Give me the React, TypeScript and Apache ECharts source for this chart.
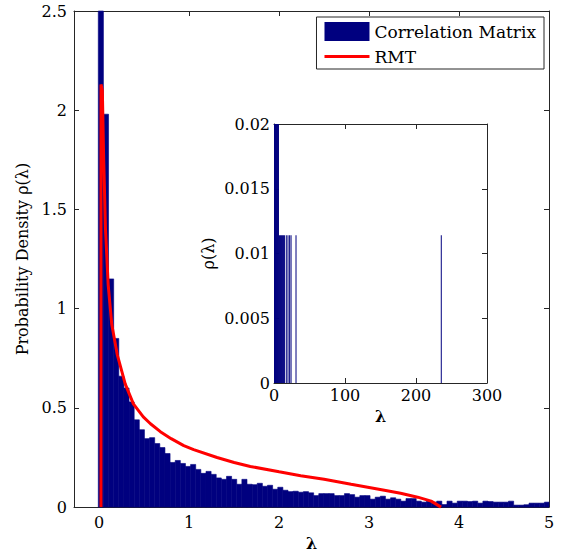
import React, { useEffect, useRef } from "react";
import * as echarts from "echarts";

// ---- Data ----
// Main histogram: bins start at binStart, each binWidth wide
const binStart = -0.01;
const binWidth = 0.057;
const binDensity = [
  3.2, 1.98, 1.15, 0.85, 0.66, 0.6, 0.53, 0.44, 0.39, 0.345,
  0.35, 0.32, 0.3, 0.27, 0.225, 0.235, 0.22, 0.205, 0.215, 0.19,
  0.17, 0.18, 0.165, 0.147, 0.14, 0.155, 0.14, 0.115, 0.14, 0.115,
  0.113, 0.12, 0.105, 0.11, 0.09, 0.1, 0.085, 0.078, 0.08, 0.075,
  0.078, 0.072, 0.058, 0.068, 0.068, 0.068, 0.058, 0.058, 0.068, 0.063,
  0.05, 0.058, 0.058, 0.04, 0.05, 0.055, 0.04, 0.047, 0.04, 0.03,
  0.043, 0.043, 0.03, 0.025, 0.03, 0.025, 0.03, 0.013, 0.03, 0.02,
  0.03, 0.03, 0.028, 0.03, 0.02, 0.03, 0.028, 0.025, 0.025, 0.025,
  0.03, 0.01, 0.01, 0.012, 0.02, 0.02, 0.02, 0.025, 0.03,
];

// RMT (Marchenko-Pastur) curve points
const rmtLambda = [
  0.02, 0.02, 0.035, 0.05, 0.07, 0.1, 0.14, 0.2, 0.29, 0.38, 0.49, 0.57, 0.68,
  0.8, 0.94, 1.05, 1.31, 1.5, 1.68, 2.0, 2.24, 2.5, 2.8, 3.17, 3.35, 3.54, 3.69, 3.8,
];
const rmtDensity = [
  0, 2.13, 2.1, 1.75, 1.4, 1.12, 0.92, 0.77, 0.62, 0.52, 0.455, 0.42, 0.38,
  0.345, 0.31, 0.29, 0.25, 0.225, 0.205, 0.178, 0.158, 0.14, 0.115, 0.085, 0.07, 0.05, 0.03, 0,
];

// Inset histogram (full eigenvalue range)
const insetBinWidth = 1.4;
const insetCenters = [0.7, 2.1, 3.5, 4.9, 6.3, 7.7, 9.1, 10.5, 11.9, 13.3, 14.7, 17.3, 19.7, 22, 24, 31, 235.6];
const insetDensity = [0.3, 0.1, 0.05, 0.03, 0.022, 0.0114, 0.0114, 0.0114, 0.0114, 0.0114, 0.0114, 0.0114, 0.0114, 0.0114, 0.0114, 0.0114, 0.0114];

const mainXTicks = [0, 1, 2, 3, 4, 5];

const FONT = "DejaVu Serif";
const AXIS_COLOR = "#262626";
const BLUE = "#00007f";
const RED = "#ff0000";

function makeRenderer(color: string, minPx: number, strokeW: number) {
  return (params: any, api: any) => {
    const x0 = api.value(0);
    const x1 = api.value(1);
    const y = api.value(2);
    const p0 = api.coord([x0, y]);
    const p1 = api.coord([x1, 0]);
    const cs = params.coordSys;
    const shape = echarts.graphic.clipRectByRect(
      {
        x: p0[0],
        y: p0[1],
        width: Math.max(p1[0] - p0[0], minPx),
        height: p1[1] - p0[1],
      },
      { x: cs.x, y: cs.y, width: cs.width, height: cs.height }
    );
    if (!shape) return null;
    return {
      type: "rect",
      shape,
      style: { fill: color, stroke: strokeW > 0 ? color : "none", lineWidth: strokeW },
    };
  };
}

export default function App() {
  const ref = useRef<HTMLDivElement>(null);

  useEffect(() => {
    if (!ref.current) return;
    const chart = echarts.init(ref.current, null, { renderer: "svg" });

    const mainBars = binDensity.map((d, i) => [
      binStart + i * binWidth,
      binStart + (i + 1) * binWidth,
      d,
    ]);
    const rmt = rmtLambda.map((l, i) => [l, rmtDensity[i]]);
    const insetBars = insetCenters.map((c, i) => [
      c - insetBinWidth / 2,
      c + insetBinWidth / 2,
      insetDensity[i],
    ]);

    const textStyle = { fontFamily: FONT, fontSize: 16, color: "#000" };
    const axisLine = { show: true, onZero: false, lineStyle: { color: AXIS_COLOR, width: 1 } };
    const tick = (extra: any = {}) => ({
      show: true,
      inside: true,
      length: 5,
      lineStyle: { color: AXIS_COLOR, width: 1 },
      ...extra,
    });

    const option: any = {
      animation: false,
      backgroundColor: "#fff",
      textStyle: { fontFamily: FONT },
      grid: [
        { left: 74, top: 11, right: 12, bottom: 45, containLabel: false },
        {
          left: 274,
          top: 124,
          width: 213,
          height: 259,
          containLabel: false,
          show: true,
          backgroundColor: "#fff",
          borderWidth: 0,
          z: 5,
        },
      ],
      legend: {
        orient: "vertical",
        right: 17,
        top: 17,
        backgroundColor: "#fff",
        borderColor: AXIS_COLOR,
        borderWidth: 1,
        borderRadius: 0,
        padding: [5, 8, 4, 8],
        itemWidth: 45,
        itemHeight: 19,
        itemGap: 7,
        symbolKeepAspect: true,
        textStyle: { ...textStyle, fontSize: 17 },
        data: [
          { name: "Correlation Matrix", icon: "rect" },
          { name: "RMT", icon: "path://M0,0 L45,0 L45,3 L0,3 Z", itemStyle: { color: RED } },
        ],
      },
      xAxis: [
        {
          type: "value",
          gridIndex: 0,
          position: "bottom",
          min: -0.28,
          max: 5,
          axisLine,
          axisTick: tick({ customValues: mainXTicks }),
          axisLabel: { customValues: mainXTicks, margin: 7, ...textStyle },
          splitLine: { show: false },
          name: "λ",
          nameLocation: "middle",
          nameGap: 26,
          nameTextStyle: { ...textStyle, fontWeight: "bold" },
        },
        {
          type: "value",
          gridIndex: 0,
          position: "top",
          min: -0.28,
          max: 5,
          axisLine,
          axisTick: tick({ customValues: mainXTicks }),
          axisLabel: { show: false },
          splitLine: { show: false },
        },
        {
          type: "value",
          gridIndex: 1,
          position: "bottom",
          min: 0,
          max: 300,
          interval: 100,
          axisLine,
          axisTick: tick(),
          axisLabel: { margin: 4, ...textStyle },
          splitLine: { show: false },
          name: "λ",
          nameLocation: "middle",
          nameGap: 25,
          nameTextStyle: { ...textStyle, fontWeight: "bold" },
          z: 6,
        },
        {
          type: "value",
          gridIndex: 1,
          position: "top",
          min: 0,
          max: 300,
          interval: 100,
          axisLine,
          axisTick: tick(),
          axisLabel: { show: false },
          splitLine: { show: false },
          z: 6,
        },
      ],
      yAxis: [
        {
          type: "value",
          gridIndex: 0,
          position: "left",
          min: 0,
          max: 2.5,
          interval: 0.5,
          axisLine,
          axisTick: tick(),
          axisLabel: { margin: 7, ...textStyle },
          splitLine: { show: false },
          name: "Probability Density ρ(λ)",
          nameLocation: "middle",
          nameGap: 44,
          nameTextStyle: { ...textStyle },
        },
        {
          type: "value",
          gridIndex: 0,
          position: "right",
          min: 0,
          max: 2.5,
          interval: 0.5,
          axisLine,
          axisTick: tick(),
          axisLabel: { show: false },
          splitLine: { show: false },
        },
        {
          type: "value",
          gridIndex: 1,
          position: "left",
          min: 0,
          max: 0.02,
          interval: 0.005,
          axisLine,
          axisTick: tick(),
          axisLabel: { margin: 4, ...textStyle },
          splitLine: { show: false },
          name: "ρ(λ)",
          nameLocation: "middle",
          nameGap: 58,
          nameTextStyle: { ...textStyle },
          z: 6,
        },
        {
          type: "value",
          gridIndex: 1,
          position: "right",
          min: 0,
          max: 0.02,
          interval: 0.005,
          axisLine,
          axisTick: tick(),
          axisLabel: { show: false },
          splitLine: { show: false },
          z: 6,
        },
      ],
      series: [
        {
          name: "Correlation Matrix",
          type: "custom",
          xAxisIndex: 0,
          yAxisIndex: 0,
          renderItem: makeRenderer(BLUE, 0, 0.6),
          encode: { x: [0, 1], y: 2 },
          itemStyle: { color: BLUE },
          data: mainBars,
          z: 2,
        },
        {
          name: "RMT",
          type: "line",
          xAxisIndex: 0,
          yAxisIndex: 0,
          data: rmt,
          symbol: "none",
          showSymbol: false,
          smooth: false,
          clip: true,
          lineStyle: { color: RED, width: 3 },
          itemStyle: { color: RED },
          z: 3,
        },
        {
          name: "Correlation Matrix",
          type: "custom",
          xAxisIndex: 2,
          yAxisIndex: 2,
          renderItem: makeRenderer(BLUE, 1, 0),
          encode: { x: [0, 1], y: 2 },
          itemStyle: { color: BLUE },
          data: insetBars,
          z: 7,
        },
      ],
    };

    chart.setOption(option);
    return () => {
      chart.dispose();
    };
  }, []);

  return (
    <div
      ref={ref}
      style={{ position: "fixed", left: 0, top: 0, width: 561, height: 556, background: "#fff" }}
    />
  );
}
